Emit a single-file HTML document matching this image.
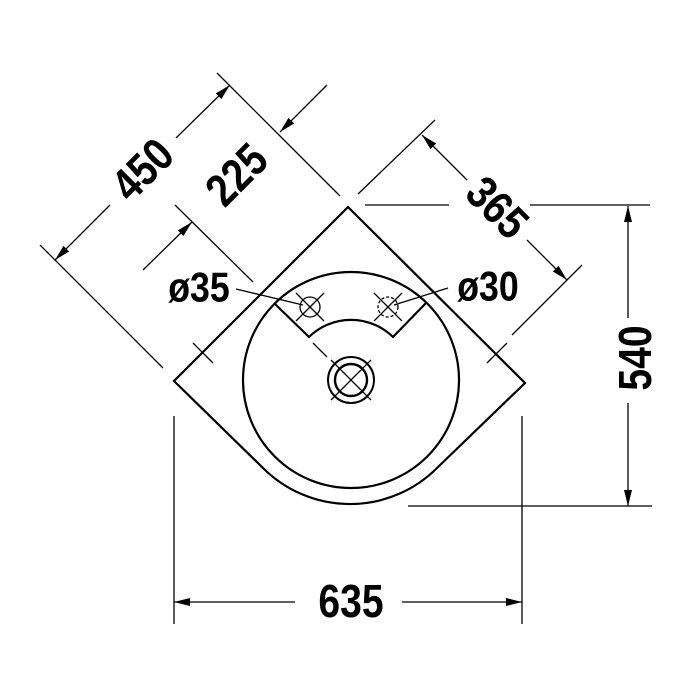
<!DOCTYPE html>
<html><head><style>html,body{margin:0;padding:0;background:#fff}svg{display:block}
text{font-family:"Liberation Sans",sans-serif;font-weight:bold;fill:#000;text-anchor:middle;dominant-baseline:central}</style></head>
<body>
<svg width="700" height="700" viewBox="0 0 700 700" xmlns="http://www.w3.org/2000/svg">
<defs>
<marker id="a" viewBox="0 0 16 8" refX="16" refY="4" markerWidth="16" markerHeight="8" markerUnits="userSpaceOnUse" orient="auto">
<path d="M0,0 L16,4 L0,8 Z" fill="#000"/></marker>
</defs>
<g fill="none" stroke="#000" stroke-width="2.2">
<path d="M348,207 L525,383 L437,468 A123,123 0 0 1 263,468 L174,381 Z"/>
<circle cx="351" cy="380" r="108"/>
<path d="M275,304 L309,337 A60,60 0 0 1 393,337 L426,303"/>
<circle cx="351" cy="380" r="23" stroke-width="2"/>
<circle cx="351" cy="380" r="16" stroke-width="2.4"/>
</g>
<g fill="none" stroke="#000" stroke-width="1.3">
<line x1="331" y1="360" x2="371" y2="400"/><line x1="371" y1="360" x2="331" y2="400"/>
<circle cx="310" cy="307" r="10"/>
<line x1="296" y1="293" x2="324" y2="321"/><line x1="324" y1="293" x2="296" y2="321"/>
<circle cx="388" cy="307" r="10" stroke-dasharray="3,2"/>
<line x1="374" y1="293" x2="402" y2="321"/><line x1="402" y1="293" x2="374" y2="321"/>
<line x1="313" y1="343" x2="327" y2="357"/>
<line x1="193" y1="343" x2="213" y2="363"/>
<line x1="507" y1="343" x2="487" y2="363"/>
<line x1="236" y1="289" x2="303" y2="305"/>
<line x1="448" y1="288" x2="394" y2="305"/>
<!-- 540 -->
<line x1="365" y1="205" x2="449" y2="205"/>
<line x1="530" y1="205" x2="650" y2="205"/>
<line x1="408" y1="506" x2="652" y2="506"/>
<line x1="628" y1="318" x2="628" y2="206" marker-end="url(#a)"/>
<line x1="628" y1="403" x2="628" y2="506" marker-end="url(#a)"/>
<!-- 635 -->
<line x1="174" y1="416" x2="174" y2="624"/>
<line x1="522" y1="416" x2="522" y2="624"/>
<line x1="295" y1="602" x2="174" y2="602" marker-end="url(#a)"/>
<line x1="402" y1="602" x2="522" y2="602" marker-end="url(#a)"/>
<!-- 365 -->
<line x1="358" y1="194" x2="435" y2="120"/>
<line x1="512" y1="335" x2="582" y2="265"/>
<line x1="467" y1="180" x2="422" y2="135" marker-end="url(#a)"/>
<line x1="527" y1="240" x2="567" y2="280" marker-end="url(#a)"/>
<!-- 450 / 225 -->
<line x1="217" y1="73" x2="340" y2="196"/>
<line x1="40" y1="245" x2="163" y2="368"/>
<line x1="110" y1="205" x2="55" y2="260" marker-end="url(#a)"/>
<line x1="176" y1="138" x2="230" y2="85" marker-end="url(#a)"/>
<line x1="175" y1="205" x2="253" y2="282"/>
<line x1="143" y1="270" x2="192" y2="222" marker-end="url(#a)"/>
<line x1="327" y1="85" x2="280" y2="132" marker-end="url(#a)"/>
</g>
<text font-size="46" transform="translate(351,602) scale(0.85,1)">635</text>
<text font-size="46" transform="translate(636,358) rotate(-90) scale(0.85,1)">540</text>
<text font-size="46" transform="translate(497,208) rotate(45) scale(0.85,1)">365</text>
<text font-size="46" transform="translate(143,170) rotate(-45) scale(0.85,1)">450</text>
<text font-size="46" transform="translate(237,175) rotate(-45) scale(0.85,1)">225</text>
<text font-size="42" transform="translate(199,288) scale(0.85,1)">ø35</text>
<text font-size="42" transform="translate(488,287) scale(0.85,1)">ø30</text>
</svg>
</body></html>
